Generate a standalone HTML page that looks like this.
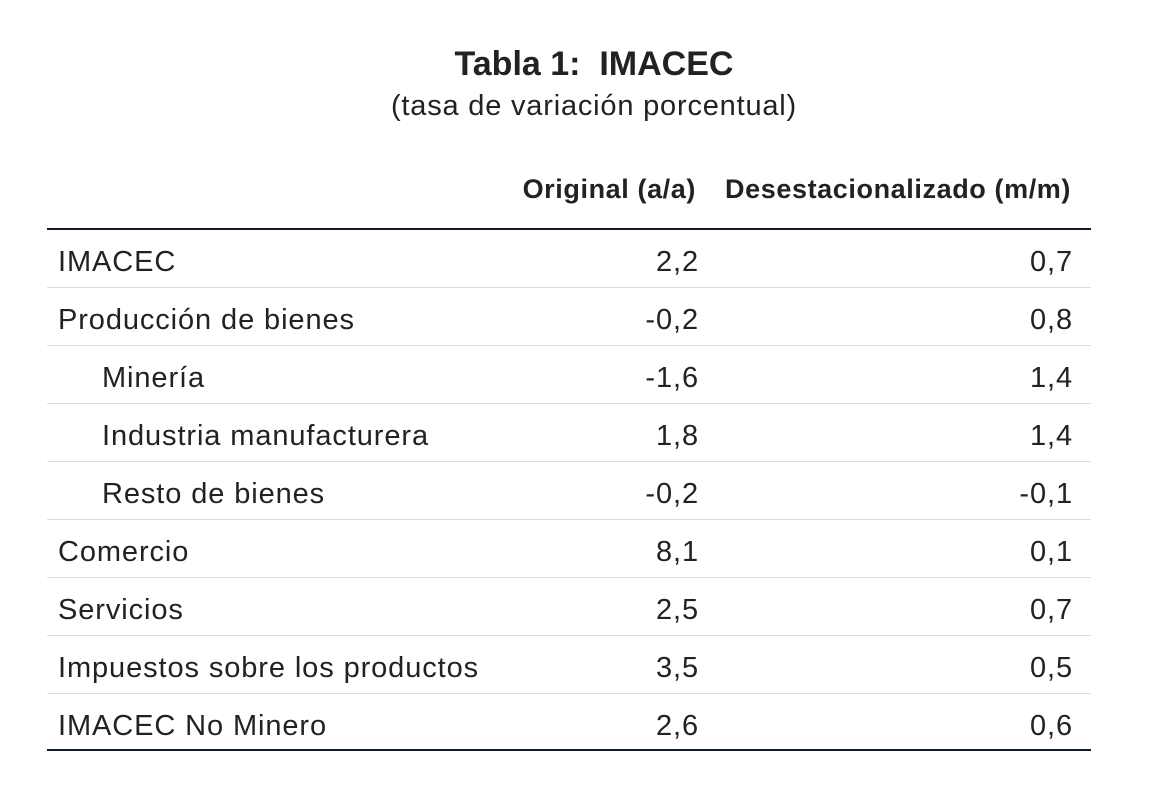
<!DOCTYPE html>
<html><head><meta charset="utf-8">
<style>
body{margin:0;width:1159px;height:796px;background:#fff;font-family:"Liberation Sans",sans-serif;color:#222;position:relative;overflow:hidden}
.t{position:absolute;left:0;width:1188px;text-align:center}
.ln{position:absolute;left:47px;width:1044px}
.c{position:absolute;font-size:29px;letter-spacing:0.9px;line-height:58px;white-space:nowrap}
</style></head><body>
<div class="t" style="top:45px;font-size:34px;font-weight:bold">Tabla 1:&nbsp; IMACEC</div>
<div class="t" style="top:90px;font-size:29px;letter-spacing:0.8px">(tasa de variación porcentual)</div>
<div class="c" style="top:160px;right:463px;font-weight:bold;font-size:27px;letter-spacing:0.6px">Original (a/a)</div>
<div class="c" style="top:160px;right:88px;font-weight:bold;font-size:27px;letter-spacing:0.6px">Desestacionalizado (m/m)</div>
<div class="ln" style="top:228px;height:2px;background:#0d1b2a"></div>
<div class="ln" style="top:749px;height:2px;background:#0d1b2a"></div>
<div id="rows"></div>
<script>
var d=[["IMACEC","2,2","0,7",0],["Producción de bienes","-0,2","0,8",0],["Minería","-1,6","1,4",1],["Industria manufacturera","1,8","1,4",1],["Resto de bienes","-0,2","-0,1",1],["Comercio","8,1","0,1",0],["Servicios","2,5","0,7",0],["Impuestos sobre los productos","3,5","0,5",0],["IMACEC No Minero","2,6","0,6",0]];
var h="";
d.forEach(function(r,i){var y=233+i*58;
h+='<div class="c" style="top:'+y+'px;left:'+(r[3]?102:58)+'px">'+r[0]+'</div>';
h+='<div class="c" style="top:'+y+'px;right:460px">'+r[1]+'</div>';
h+='<div class="c" style="top:'+y+'px;right:86px">'+r[2]+'</div>';
if(i<8)h+='<div class="ln" style="top:'+(231+i*58+56)+'px;height:1px;background:#ddd"></div>';});
document.getElementById("rows").innerHTML=h;
</script>
</body></html>
